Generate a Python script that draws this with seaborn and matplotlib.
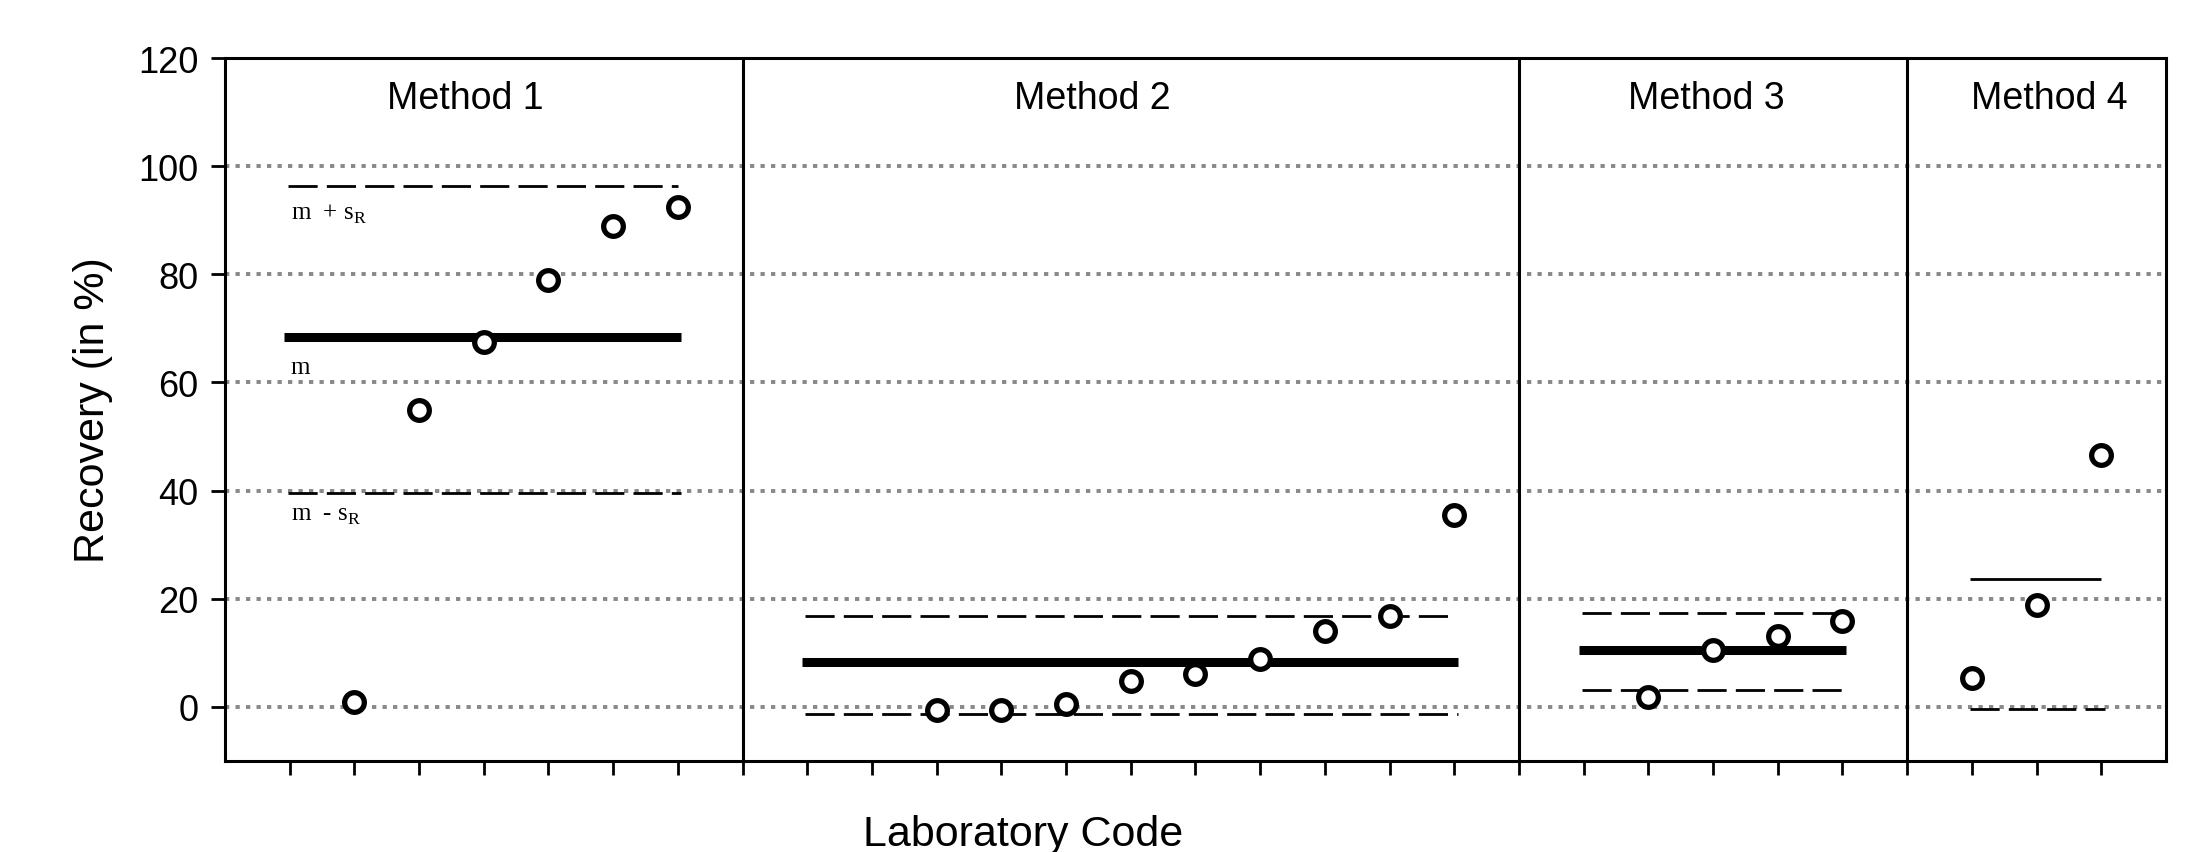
import matplotlib
matplotlib.use("Agg")
import matplotlib.pyplot as plt
import seaborn as sns
import pandas as pd

# laboratory results per method (x = laboratory code position, y = recovery %)
m1_lab = [2, 3, 4, 5, 6, 7]
m1_rec = [1.0, 55.0, 67.5, 79.0, 89.0, 92.5]
m2_lab = [11, 12, 13, 14, 15, 16, 17, 18, 19]
m2_rec = [-0.5, -0.5, 0.5, 4.7, 6.0, 8.8, 14.0, 16.8, 35.5]
m3_lab = [22, 23, 24, 25]
m3_rec = [1.8, 10.6, 13.2, 15.8]
m4_lab = [27, 28, 29]
m4_rec = [5.4, 18.9, 46.6]

methods = ["Method 1", "Method 2", "Method 3", "Method 4"]
method_start = [1, 9, 21, 27]
method_end = [7, 19, 25, 29]
method_mean = [68.4, 8.3, 10.6, None]
method_upper = [96.4, 16.8, 17.4, 23.6]
method_lower = [39.6, -1.3, 3.1, -0.3]
boundaries = [8, 20, 26]
yticks = [0, 20, 40, 60, 80, 100, 120]

df = pd.DataFrame({
    "lab": m1_lab + m2_lab + m3_lab + m4_lab,
    "recovery": m1_rec + m2_rec + m3_rec + m4_rec,
})

sns.set_theme(style="white")
plt.rcParams["font.family"] = ["Liberation Sans", "DejaVu Sans"]
plt.rcParams["text.color"] = "black"
plt.rcParams["axes.labelcolor"] = "black"
plt.rcParams["xtick.color"] = "black"
plt.rcParams["ytick.color"] = "black"

fig = plt.figure(figsize=(22.01, 8.53), dpi=100)
ax = fig.add_axes([0.1022, 0.1067, 0.8819, 0.8241])

# dotted horizontal grid
for y in yticks[:-1]:
    ax.axhline(y, color="#888888", lw=2.8, linestyle=(0, (1.1, 1.6)), zorder=0)

# method separators
for b in boundaries:
    ax.axvline(b, color="black", lw=2.2, zorder=1)

# mean / +-sR lines per method
for i in range(len(methods)):
    x0, x1 = method_start[i], method_end[i]
    if method_mean[i] is not None:
        ax.hlines(method_mean[i], x0 - 0.08, x1 + 0.05, color="black", lw=6.5, zorder=2)
    up_style = (0, (10.5, 3.3)) if i < 3 else "-"
    ax.hlines(method_upper[i], x0 - 0.03, x1, color="black", lw=2, linestyle=up_style, zorder=2)
    ax.hlines(method_lower[i], x0 - 0.03, x1 + 0.05, color="black", lw=2,
              linestyle=(0, (10.5, 3.3)), zorder=2)

sns.scatterplot(data=df, x="lab", y="recovery", ax=ax, marker="o", s=200,
                facecolor="white", edgecolor="black", linewidth=3.8, zorder=3,
                legend=False)

# method titles
label_x = [3.72, 13.4, 22.9, 28.2]
for name, lx in zip(methods, label_x):
    ax.text(lx, 112.7, name, ha="center", va="center", fontsize=27)

# m / m +- sR annotations
serif = ["Liberation Serif", "DejaVu Serif"]
ax.text(1.02, 90.3, r"m  + s$_\mathregular{R}$", fontsize=18, family=serif, va="baseline")
ax.text(1.02, 61.8, "m", fontsize=18, family=serif, va="baseline")
ax.text(1.02, 34.6, r"m  - s$_\mathregular{R}$", fontsize=18, family=serif, va="baseline")

ax.set_xlim(0, 30)
ax.set_ylim(-10, 120)
ax.set_xticks(range(1, 30))
ax.set_xticklabels([])
ax.set_yticks(yticks)
ax.tick_params(axis="both", direction="out", length=10, width=2, color="black",
               labelsize=26, pad=9, bottom=True, left=True)
for side in ["top", "bottom", "left", "right"]:
    ax.spines[side].set_color("black")
    ax.spines[side].set_linewidth(2.2)

ax.set_ylabel("Recovery (in %)", fontsize=31, labelpad=18)
ax.set_xlabel("Laboratory Code", fontsize=31)
ax.xaxis.set_label_coords(0.411, -0.075)

fig.savefig("out.png", dpi=100, facecolor="white")
